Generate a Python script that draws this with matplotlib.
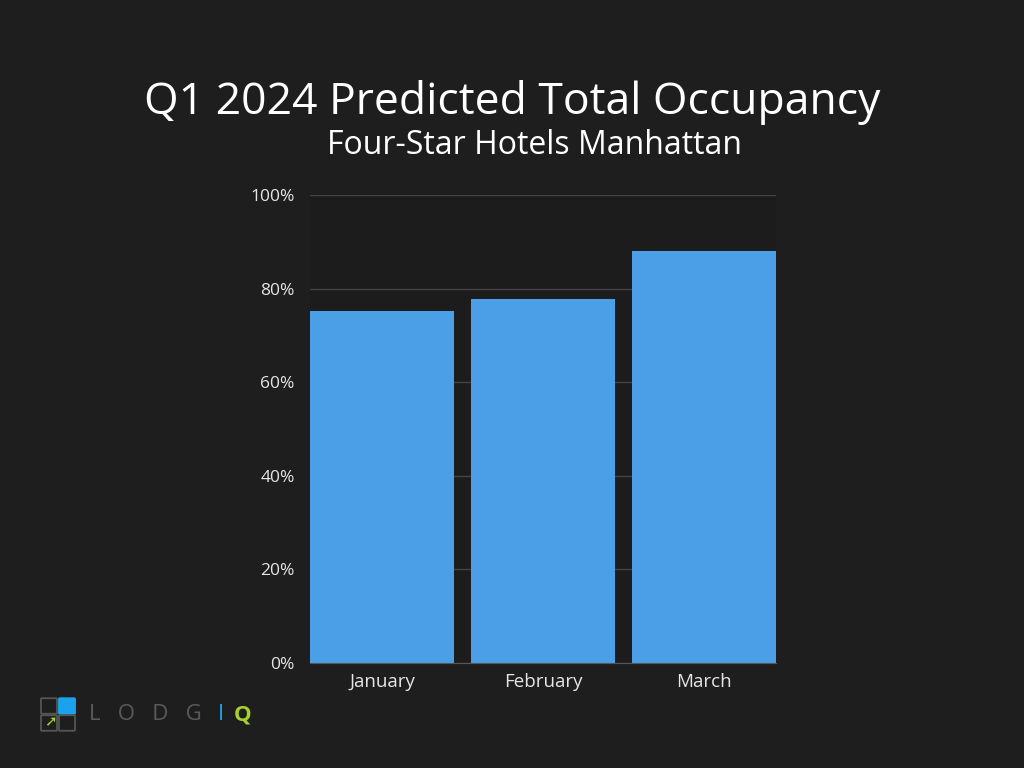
import matplotlib.pyplot as plt
import matplotlib.patches as mpatches
from matplotlib.ticker import FuncFormatter

plt.rcParams['font.family'] = ['Open Sans', 'DejaVu Sans']

BG = '#1e1e1e'
BAR = '#4a9fe6'

months = ['January', 'February', 'March']
occupancy = [75.3, 77.8, 88.0]

fig = plt.figure(figsize=(10.24, 7.68), dpi=100, facecolor=BG)
ax = fig.add_axes([0.3027, 0.1367, 0.4551, 0.6094])
ax.set_facecolor('#1c1c1c')

ax.bar(range(len(months)), occupancy, width=0.894, color=BAR, zorder=3)
ax.set_xlim(-0.447, 2.447)
ax.set_ylim(0, 100)
ax.set_yticks([0, 20, 40, 60, 80, 100])
ax.yaxis.set_major_formatter(FuncFormatter(lambda v, p: f'{v:.0f}%'))
ax.set_xticks(range(len(months)))
ax.set_xticklabels(months)
ax.tick_params(colors='#e6e6e6', length=0)
ax.tick_params(axis='x', labelsize=13.5, pad=7)
ax.tick_params(axis='y', labelsize=12.5, pad=11)
ax.grid(axis='y', color='#444444', linewidth=1, zorder=0)
for s in ['top', 'right', 'left']:
    ax.spines[s].set_visible(False)
ax.spines['bottom'].set_color('#555555')
ax.spines['bottom'].set_zorder(4)

fig.text(0.5, 0.867, 'Q1 2024 Predicted Total Occupancy', ha='center', va='center',
         color='white', fontsize=32)
fig.text(0.522, 0.811, 'Four-Star Hotels Manhattan', ha='center', va='center',
         color='white', fontsize=23)

# logo
def box(x, y, fill=None):
    p = mpatches.FancyBboxPatch((x / 1024, 1 - y / 768), 14 / 1024, 14 / 768,
                                boxstyle='round,pad=0.001',
                                transform=fig.transFigure,
                                facecolor=fill if fill else 'none',
                                edgecolor=fill if fill else '#555555', linewidth=1.3)
    fig.patches.append(p)

box(42, 713)
box(60, 713, '#1aa3ec')
box(42, 730)
box(60, 730)
fig.text(50 / 1024, 1 - 722 / 768, '➚', color='#a6d12a', fontsize=11,
         ha='center', va='center', family=['DejaVu Sans'], fontweight='bold')
fig.text(89 / 1024, 1 - 715 / 768, 'L   O   D   G', color='#5a5a5a', fontsize=16,
         ha='left', va='center')
fig.text(218 / 1024, 1 - 715 / 768, 'I', color='#1aa3ec', fontsize=16,
         ha='left', va='center')
fig.text(234 / 1024, 1 - 715 / 768, 'Q', color='#a6d12a', fontsize=16,
         ha='left', va='center', fontweight='bold')

fig.savefig('out.png', dpi=100, facecolor=BG)
